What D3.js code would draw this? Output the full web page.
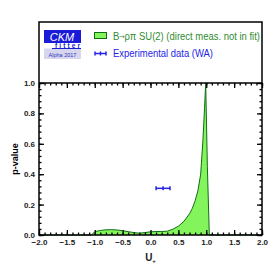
<!DOCTYPE html>
<html>
<head>
<meta charset="utf-8">
<script src="https://cdn.jsdelivr.net/npm/d3@7"></script>
<style>
  body { margin: 0; background: #fff; }
  svg { display: block; }
</style>
</head>
<body>
<svg width="276" height="276"></svg>
<script>
// curve of p-value vs U+
const uValues = [-2.0, -1.06, -1.0, -0.9, -0.8, -0.7, -0.6, -0.5, -0.4, -0.3, -0.2, -0.1, 0.0, 0.1, 0.2, 0.3, 0.4, 0.5, 0.6, 0.7, 0.75, 0.8, 0.85, 0.9, 0.94, 0.97, 0.99, 1.02, 1.055, 2.0];
const pValues = [0, 0, 0.022, 0.030, 0.034, 0.035, 0.033, 0.028, 0.022, 0.016, 0.012, 0.016, 0.021, 0.023, 0.023, 0.025, 0.038, 0.058, 0.090, 0.140, 0.175, 0.225, 0.29, 0.40, 0.62, 0.84, 1.0, 0.45, 0, 0];

// experimental data point
const expU = 0.225;
const expErr = 0.125;
const expP = 0.307;

const xTicks = [-2.0, -1.5, -1.0, -0.5, 0.0, 0.5, 1.0, 1.5, 2.0];
const yTicks = [0.0, 0.2, 0.4, 0.6, 0.8, 1.0];

const svg = d3.select('svg');
const margin = { top: 83, right: 14, bottom: 41, left: 39 };
const width = +svg.attr('width');
const height = +svg.attr('height');
const innerWidth = width - margin.left - margin.right;
const innerHeight = height - margin.top - margin.bottom;

const xScale = d3.scaleLinear().domain([-2, 2]).range([0, innerWidth]);
const yScale = d3.scaleLinear().domain([0, 1]).range([innerHeight, 0]);

const g = svg.append('g')
    .attr('transform', `translate(${margin.left},${margin.top})`);

const green = '#84f45c';
const darkGreen = '#0f6e14';
const blue = '#2424e8';
const narrow = 'Liberation Sans Narrow, Liberation Sans, Arial, sans-serif';

// filled curve
const curve = uValues.map((u, i) => ({ u, p: pValues[i] }));
g.append('path')
    .datum(curve)
    .attr('d', d3.area().x(d => xScale(d.u)).y0(yScale(0)).y1(d => yScale(d.p)))
    .attr('fill', green)
    .attr('stroke', 'none');
g.append('path')
    .datum(curve)
    .attr('d', d3.line().x(d => xScale(d.u)).y(d => yScale(d.p)))
    .attr('fill', 'none')
    .attr('stroke', darkGreen)
    .attr('stroke-width', 1);

// experimental point
const ex = g.append('g').attr('stroke', blue).attr('stroke-width', 1.5);
ex.append('line')
    .attr('x1', xScale(expU - expErr)).attr('x2', xScale(expU + expErr))
    .attr('y1', yScale(expP)).attr('y2', yScale(expP));
[expU - expErr, expU, expU + expErr].forEach(v => {
    ex.append('line')
        .attr('x1', xScale(v)).attr('x2', xScale(v))
        .attr('y1', yScale(expP) - 2).attr('y2', yScale(expP) + 2);
});

// axes, ticks inward
const minorX = d3.range(-2, 2.001, 0.1);
const minorY = d3.range(0, 1.001, 0.04);
const fmt = d3.format('.1f');

const minorAxis = (axis, tx) => {
    const a = g.append('g').attr('transform', tx).call(axis);
    a.selectAll('text').remove();
    return a;
};

minorAxis(d3.axisBottom(xScale).tickValues(minorX).tickSize(-2.5), `translate(0,${innerHeight})`);
minorAxis(d3.axisTop(xScale).tickValues(minorX).tickSize(-2.5), null);
minorAxis(d3.axisTop(xScale).tickValues(xTicks).tickSize(-5), null);
minorAxis(d3.axisLeft(yScale).tickValues(minorY).tickSize(-2.5), null);
minorAxis(d3.axisRight(yScale).tickValues(minorY).tickSize(-2.5), `translate(${innerWidth},0)`);
minorAxis(d3.axisRight(yScale).tickValues(yTicks).tickSize(-5), `translate(${innerWidth},0)`);

g.append('g').attr('transform', `translate(0,${innerHeight})`)
    .call(d3.axisBottom(xScale).tickValues(xTicks).tickSize(-5).tickPadding(4).tickFormat(fmt))
    .attr('font-family', narrow).attr('font-size', 8).attr('font-weight', 'bold');
g.append('g')
    .call(d3.axisLeft(yScale).tickValues(yTicks).tickSize(-5).tickPadding(4).tickFormat(fmt))
    .attr('font-family', narrow).attr('font-size', 8).attr('font-weight', 'bold');

g.selectAll('.domain').remove();
g.selectAll('.tick line').attr('stroke', '#000').attr('stroke-width', 1.3);
g.selectAll('.tick text').attr('fill', '#222');

// frame (including legend area above the plot)
const legendTop = 22 - margin.top;
g.append('rect')
    .attr('x', 0).attr('y', legendTop)
    .attr('width', innerWidth).attr('height', innerHeight - legendTop)
    .attr('fill', 'none').attr('stroke', '#000').attr('stroke-width', 1.5);
g.append('line')
    .attr('x1', 0).attr('x2', innerWidth).attr('y1', 0).attr('y2', 0)
    .attr('stroke', '#000').attr('stroke-width', 1.5);

// axis titles
svg.append('text')
    .attr('transform', `translate(17.5,${margin.top + innerHeight / 2}) rotate(-90)`)
    .attr('text-anchor', 'middle')
    .style('font-family', 'Liberation Sans, Arial, sans-serif')
    .style('font-weight', 'bold').style('font-size', '9px')
    .text('p-value');
const xl = svg.append('text')
    .attr('x', margin.left + xScale(0)).attr('y', 261)
    .attr('text-anchor', 'middle')
    .style('font-family', narrow)
    .style('font-weight', 'bold').style('font-size', '10px').style('fill', '#222');
xl.append('tspan').text('U');
xl.append('tspan').attr('dy', 2).style('font-size', '6px').text('+');

// CKMfitter logo
const logo = svg.append('g').attr('transform', 'translate(44,30)');
logo.append('rect').attr('width', 37).attr('height', 29).attr('fill', '#d6d6ee');
logo.append('rect').attr('width', 37).attr('height', 13).attr('fill', '#1a1ad8');
logo.append('rect').attr('y', 13).attr('width', 37).attr('height', 5.5).attr('fill', '#fff');
logo.append('line').attr('x1', 8).attr('x2', 37).attr('y1', 18.5).attr('y2', 18.5)
    .attr('stroke', '#1a1ad8').attr('stroke-width', 1);
logo.append('text').attr('x', 18).attr('y', 11).attr('text-anchor', 'middle')
    .style('font-family', 'Liberation Sans, Arial, sans-serif').style('font-style', 'italic')
    .style('font-size', '11px').style('fill', '#fff').text('CKM');
logo.append('text').attr('x', 11).attr('y', 17.8)
    .attr('textLength', 25).attr('lengthAdjust', 'spacing')
    .style('font-family', 'Liberation Sans, Arial, sans-serif').style('font-weight', 'bold')
    .style('font-size', '6.5px').style('fill', '#1a1ad8').text('fitter');
logo.append('text').attr('x', 18.5).attr('y', 26.5).attr('text-anchor', 'middle')
    .style('font-family', narrow)
    .style('font-size', '5.5px').style('fill', '#3535c0').text('Alpha 2017');

// legend
const lg = svg.append('g');
lg.append('rect').attr('x', 94.5).attr('y', 32.5).attr('width', 12).attr('height', 6)
    .attr('fill', green).attr('stroke', darkGreen).attr('stroke-width', 1);
const t1 = lg.append('text').attr('x', 113).attr('y', 39.5)
    .attr('textLength', 147).attr('lengthAdjust', 'spacingAndGlyphs')
    .style('font-family', narrow)
    .style('font-size', '10.5px').style('fill', '#2e8b2e');
t1.append('tspan').text('B');
t1.append('tspan').style('font-family', 'DejaVu Sans').style('font-size', '7px').attr('dy', -1).text('\u2192');
t1.append('tspan').attr('dy', 1).text('\u03c1\u03c0 SU(2) (direct meas. not in fit)');
lg.append('text').attr('x', 113).attr('y', 57)
    .attr('textLength', 100).attr('lengthAdjust', 'spacingAndGlyphs')
    .style('font-family', narrow)
    .style('font-size', '10.5px').style('fill', blue)
    .text('Experimental data (WA)');
const le = lg.append('g').attr('stroke', blue).attr('stroke-width', 1.5);
le.append('line').attr('x1', 95).attr('x2', 106).attr('y1', 53.5).attr('y2', 53.5);
[95, 100.5, 106].forEach(v => {
    le.append('line').attr('x1', v).attr('x2', v).attr('y1', 51.5).attr('y2', 55.5);
});
</script>
</body>
</html>
